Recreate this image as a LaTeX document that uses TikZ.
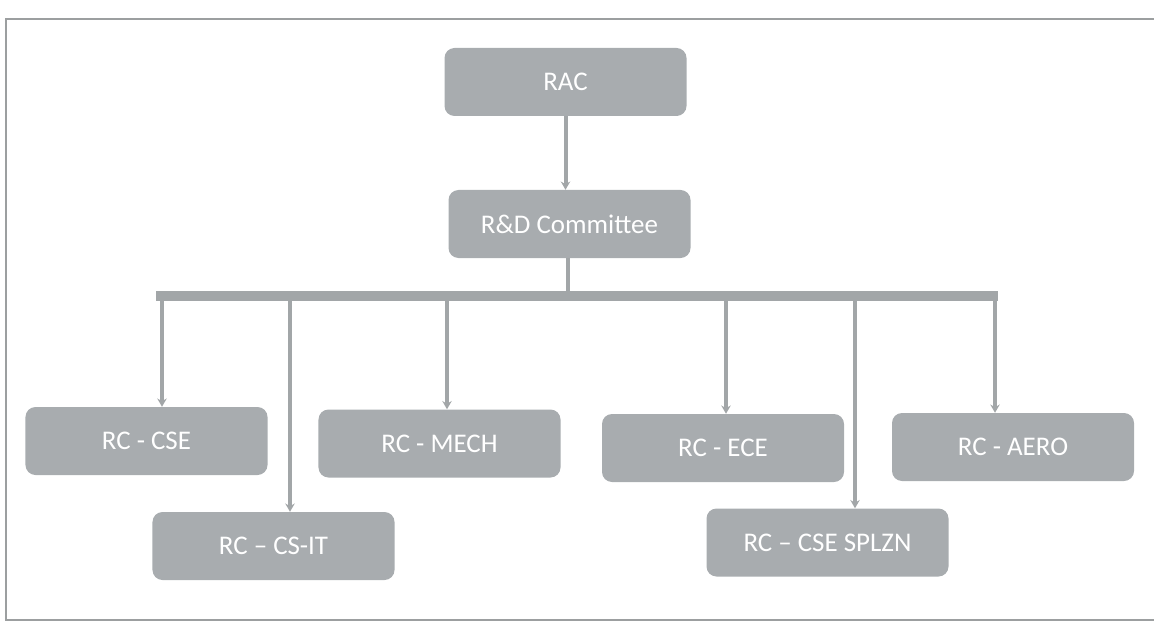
\documentclass[tikz,border=0pt]{standalone}
\usepackage{fontspec}
\setmainfont{Carlito}
\usepackage{xcolor}
\usetikzlibrary{arrows.meta}

\definecolor{boxgray}{HTML}{A8ACAF}
\definecolor{linegray}{HTML}{A2A6A8}
\definecolor{framegray}{HTML}{9C9FA0}

\begin{document}
\begin{tikzpicture}
[x=0.03cm,y=-0.03cm,
 every node/.style={rectangle,rounded corners=0.3cm,fill=boxgray,text=white,
   minimum width=7.26cm,minimum height=2.04cm,font=\fontsize{23}{27}\selectfont},
 link/.style={draw=linegray,line width=3.4pt,-{Stealth[length=7pt,width=8pt]}},
 bus/.style={draw=linegray,line width=9pt}]

  \useasboundingbox (0,0) rectangle (1154,623);
  \draw[framegray,line width=1.6pt] (1154,19) -- (6,19) -- (6,620) -- (1154,620);

  \node (rac) at (565.5,82) {RAC};
  \node (rd) at (569.5,224) {R\&D Committee};
  \node (cse) at (146.5,441) {RC - CSE};
  \node (csit) at (273.5,546) {RC -- CS-IT};
  \node (mech) at (439.5,443.5) {RC - MECH};
  \node (ece) at (723,448) {RC - ECE};
  \node (splzn) at (827.5,542.5) {RC -- CSE SPLZN};
  \node (aero) at (1013,447) {RC - AERO};

  \coordinate (busl) at (156,296);
  \coordinate (busr) at (998,296);
  \coordinate (b1) at (162,296);
  \coordinate (b2) at (290,296);
  \coordinate (b3) at (447,296);
  \coordinate (b4) at (726,296);
  \coordinate (b5) at (855,296);
  \coordinate (b6) at (995,296);

  \draw[link] (rac.south) -- (rac.south |- rd.north);
  \draw[bus] (busl) -- (busr);
  \draw[draw=linegray,line width=3.4pt] (rd.south -| 568,0) -- (568,296);
  \foreach \from/\to in {b1/cse, b2/csit, b3/mech, b4/ece, b5/splzn, b6/aero}
    \draw[link] (\from) -- (\from |- \to.north);

\end{tikzpicture}
\end{document}
